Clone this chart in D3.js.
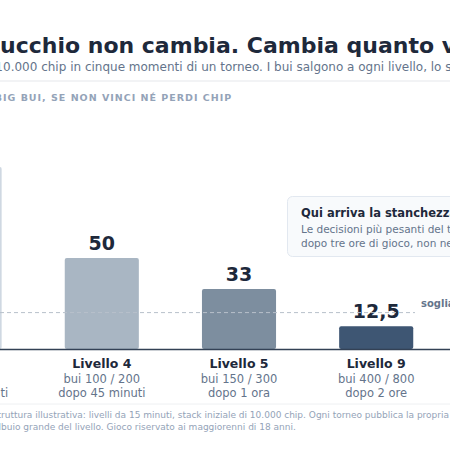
<!DOCTYPE html><html><head><meta charset="utf-8"><script src="https://cdn.jsdelivr.net/npm/d3@7"></script>
<style>body{margin:0;background:#fff}svg{display:block;font-family:"DejaVu Sans",sans-serif}</style></head><body><svg id="c" width="450" height="450"></svg>
<script>
const levels=["Livello 2","Livello 4","Livello 5","Livello 9","Livello 13"];
const blinds=["bui 50 / 100","bui 100 / 200","bui 150 / 300","bui 400 / 800","bui 750 / 1.500"];
const times=["dopo 15 minuti","dopo 45 minuti","dopo 1 ora","dopo 2 ore","dopo 3 ore"];
const values=[100,50,33,12.5,6.7];
const valueLabels=["100","50","33","12,5","6,7"];
const colors=["#cfd8e2","#a9b6c3","#7d8e9f","#3e5673","#1e293b"];
const threshold=20;
const svg=d3.select("#c");
function leftText(prefix,rest,yy,size,weight,fill,ls,shift){
  const t=svg.append("text").attr("y",yy).attr("font-size",size).attr("font-weight",weight).attr("fill",fill).attr("letter-spacing",ls||0).text(prefix);
  const w=t.node().getComputedTextLength();
  t.text(prefix+rest).attr("x",-w+(shift||0));
}
const x=d3.scaleBand().domain(levels).range([-104,582]).paddingInner(0.46).paddingOuter(0.23);
const y=d3.scaleLinear().domain([0,100]).range([349,167]);
leftText("Il tuo m","ucchio non cambia. Cambia quanto vale.",53,22,"bold","#1e293b",0,0);
leftText("Uno stack di 1","0.000 chip in cinque momenti di un torneo. I bui salgono a ogni livello, lo stack no.",71,12,"normal","#64748b",0,3);
svg.append("line").attr("x1",0).attr("x2",450).attr("y1",81).attr("y2",81).attr("stroke","#e5e7eb");
leftText("STACK IN B","IG BUI, SE NON VINCI NÉ PERDI CHIP",101,9.5,"bold","#94a3b8",1,3);
const g=svg.append("g");
g.selectAll("rect.b").data(values).join("rect").attr("x",(d,i)=>x(levels[i])).attr("width",x.bandwidth()).attr("y",d=>y(d)).attr("height",d=>y(0)-y(d)).attr("rx",2).attr("fill",(d,i)=>colors[i]);
svg.append("line").attr("x1",0).attr("x2",415).attr("y1",y(threshold)).attr("y2",y(threshold)).attr("stroke","#b8c0ca").attr("stroke-dasharray","4,3");
svg.append("text").attr("x",421).attr("y",307).attr("font-size",10).attr("font-weight","bold").attr("fill","#64748b").text("soglia critica: 20 big bui");
g.selectAll("text.v").data(values).join("text").attr("x",(d,i)=>x(levels[i])+x.bandwidth()/2).attr("y",d=>y(d)-8).attr("text-anchor","middle").attr("font-size",19).attr("font-weight","bold").attr("fill","#1e293b").text((d,i)=>valueLabels[i]);
svg.append("line").attr("x1",0).attr("x2",450).attr("y1",349.5).attr("y2",349.5).attr("stroke","#334155").attr("stroke-width",1.5);
levels.forEach((l,i)=>{const cx=x(l)+x.bandwidth()/2;
svg.append("text").attr("x",cx).attr("y",368).attr("text-anchor","middle").attr("font-size",12.5).attr("font-weight","bold").attr("fill","#1e293b").text(l);
svg.append("text").attr("x",cx).attr("y",382.5).attr("text-anchor","middle").attr("font-size",11.5).attr("fill","#64748b").text(blinds[i]);
svg.append("text").attr("x",cx).attr("y",396.5).attr("text-anchor","middle").attr("font-size",11.5).attr("fill","#64748b").text(times[i]);});
svg.append("rect").attr("x",287.5).attr("y",196.5).attr("width",240).attr("height",60).attr("rx",5).attr("fill","#f8fafc").attr("stroke","#e2e8f0");
svg.append("text").attr("x",301).attr("y",217).attr("font-size",11.5).attr("font-weight","bold").attr("fill","#1e293b").text("Qui arriva la stanchezza");
svg.append("text").attr("x",301).attr("y",233).attr("font-size",10.5).attr("fill","#64748b").text("Le decisioni più pesanti del torneo arrivano");
svg.append("text").attr("x",301).attr("y",247).attr("font-size",10.5).attr("fill","#64748b").text("dopo tre ore di gioco, non nei primi livelli.");
svg.append("line").attr("x1",0).attr("x2",450).attr("y1",404).attr("y2",404).attr("stroke","#eef0f2");
leftText("Fonte: st","ruttura illustrativa: livelli da 15 minuti, stack iniziale di 10.000 chip. Ogni torneo pubblica la propria struttura.",418,9,"normal","#94a3b8",0,1);
leftText("Big bui = stack diviso il","buio grande del livello. Gioco riservato ai maggiorenni di 18 anni.",430,9,"normal","#94a3b8",0,1);
</script></body></html>
